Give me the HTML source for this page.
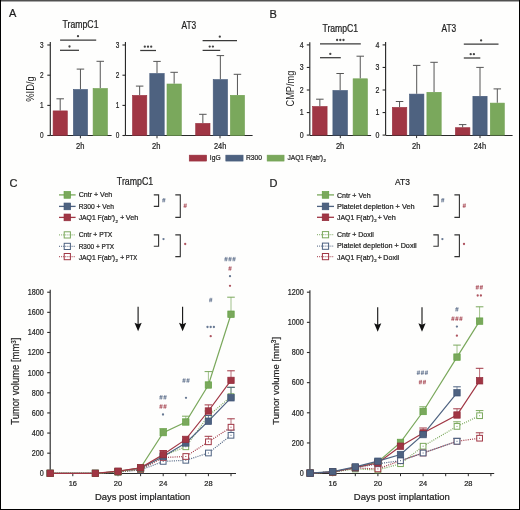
<!DOCTYPE html>
<html><head><meta charset="utf-8"><title>Figure</title>
<style>
html,body{margin:0;padding:0;background:#fefefd;width:520px;height:510px;overflow:hidden;}
svg{display:block;will-change:transform;font-family:"Liberation Sans", sans-serif;}
</style></head>
<body>
<svg width="520" height="510" viewBox="0 0 520 510" shape-rendering="auto">
<rect x="0" y="0" width="520" height="510" fill="#fefefd"/>
<text x="9" y="17.3" font-size="11" text-anchor="start" fill="#1e1e1e" stroke="#1e1e1e" stroke-width="0.22" >A</text>
<text x="80.5" y="28.3" font-size="10" text-anchor="middle" fill="#1e1e1e" stroke="#1e1e1e" stroke-width="0.22" textLength="36" lengthAdjust="spacingAndGlyphs" >TrampC1</text>
<text x="188.8" y="28.5" font-size="10" text-anchor="middle" fill="#1e1e1e" stroke="#1e1e1e" stroke-width="0.22" textLength="14.7" lengthAdjust="spacingAndGlyphs" >AT3</text>
<text transform="translate(34,89) rotate(-90)" x="0" y="0" font-size="10" text-anchor="middle" fill="#1e1e1e" textLength="25.5" lengthAdjust="spacingAndGlyphs">%ID/g</text>
<line x1="50.3" y1="42" x2="50.3" y2="135.5" stroke="#2a2a2a" stroke-width="1.15" />
<line x1="47.3" y1="135.5" x2="50.3" y2="135.5" stroke="#2a2a2a" stroke-width="1.1" />
<text x="43.5" y="138.32" font-size="8.8" text-anchor="end" fill="#1e1e1e" stroke="#1e1e1e" stroke-width="0.22" textLength="3.6" lengthAdjust="spacingAndGlyphs" >0</text>
<line x1="47.3" y1="105.4" x2="50.3" y2="105.4" stroke="#2a2a2a" stroke-width="1.1" />
<text x="43.5" y="108.22" font-size="8.8" text-anchor="end" fill="#1e1e1e" stroke="#1e1e1e" stroke-width="0.22" textLength="3.6" lengthAdjust="spacingAndGlyphs" >1</text>
<line x1="47.3" y1="75.2" x2="50.3" y2="75.2" stroke="#2a2a2a" stroke-width="1.1" />
<text x="43.5" y="78.02" font-size="8.8" text-anchor="end" fill="#1e1e1e" stroke="#1e1e1e" stroke-width="0.22" textLength="3.6" lengthAdjust="spacingAndGlyphs" >2</text>
<line x1="47.3" y1="45" x2="50.3" y2="45" stroke="#2a2a2a" stroke-width="1.1" />
<text x="43.5" y="47.82" font-size="8.8" text-anchor="end" fill="#1e1e1e" stroke="#1e1e1e" stroke-width="0.22" textLength="3.6" lengthAdjust="spacingAndGlyphs" >3</text>
<line x1="50.3" y1="135.5" x2="111.6" y2="135.5" stroke="#2a2a2a" stroke-width="1" />
<line x1="80.4" y1="135.3" x2="80.4" y2="138.3" stroke="#2a2a2a" stroke-width="1" />
<line x1="60.2" y1="110.6" x2="60.2" y2="98.8" stroke="#555555" stroke-width="1" />
<line x1="56.45" y1="98.8" x2="63.95" y2="98.8" stroke="#555555" stroke-width="1" />
<rect x="53.1" y="110.9" width="14.2" height="24.4" fill="#a03644" stroke="#97303e" stroke-width="0.6"/>
<line x1="80.45" y1="89.2" x2="80.45" y2="69.1" stroke="#555555" stroke-width="1" />
<line x1="76.7" y1="69.1" x2="84.2" y2="69.1" stroke="#555555" stroke-width="1" />
<rect x="73.4" y="89.5" width="14.1" height="45.8" fill="#4e6280" stroke="#44597a" stroke-width="0.6"/>
<line x1="100.25" y1="88.2" x2="100.25" y2="61.3" stroke="#555555" stroke-width="1" />
<line x1="96.5" y1="61.3" x2="104" y2="61.3" stroke="#555555" stroke-width="1" />
<rect x="93.1" y="88.5" width="14.3" height="46.8" fill="#7aa85c" stroke="#70a050" stroke-width="0.6"/>
<line x1="60.1" y1="40" x2="96.2" y2="40" stroke="#3a3a3a" stroke-width="1.25" />
<circle cx="78" cy="36.2" r="1.15" fill="#444"/>
<line x1="60" y1="50.3" x2="79" y2="50.3" stroke="#3a3a3a" stroke-width="1.25" />
<circle cx="69.5" cy="46.5" r="1.15" fill="#444"/>
<text x="80.3" y="148.6" font-size="8.6" text-anchor="middle" fill="#1e1e1e" stroke="#1e1e1e" stroke-width="0.22" textLength="8.4" lengthAdjust="spacingAndGlyphs" >2h</text>
<line x1="125.45" y1="42" x2="125.45" y2="135.5" stroke="#2a2a2a" stroke-width="1.15" />
<line x1="122.45" y1="135.5" x2="125.45" y2="135.5" stroke="#2a2a2a" stroke-width="1.1" />
<text x="119.4" y="138.32" font-size="8.8" text-anchor="end" fill="#1e1e1e" stroke="#1e1e1e" stroke-width="0.22" textLength="3.6" lengthAdjust="spacingAndGlyphs" >0</text>
<line x1="122.45" y1="105.4" x2="125.45" y2="105.4" stroke="#2a2a2a" stroke-width="1.1" />
<text x="119.4" y="108.22" font-size="8.8" text-anchor="end" fill="#1e1e1e" stroke="#1e1e1e" stroke-width="0.22" textLength="3.6" lengthAdjust="spacingAndGlyphs" >1</text>
<line x1="122.45" y1="75.2" x2="125.45" y2="75.2" stroke="#2a2a2a" stroke-width="1.1" />
<text x="119.4" y="78.02" font-size="8.8" text-anchor="end" fill="#1e1e1e" stroke="#1e1e1e" stroke-width="0.22" textLength="3.6" lengthAdjust="spacingAndGlyphs" >2</text>
<line x1="122.45" y1="45" x2="125.45" y2="45" stroke="#2a2a2a" stroke-width="1.1" />
<text x="119.4" y="47.82" font-size="8.8" text-anchor="end" fill="#1e1e1e" stroke="#1e1e1e" stroke-width="0.22" textLength="3.6" lengthAdjust="spacingAndGlyphs" >3</text>
<line x1="125.4" y1="135.5" x2="252.6" y2="135.5" stroke="#2a2a2a" stroke-width="1" />
<line x1="157" y1="135.3" x2="157" y2="138.3" stroke="#2a2a2a" stroke-width="1" />
<line x1="220" y1="135.3" x2="220" y2="138.3" stroke="#2a2a2a" stroke-width="1" />
<line x1="139.65" y1="95.1" x2="139.65" y2="86.1" stroke="#555555" stroke-width="1" />
<line x1="135.9" y1="86.1" x2="143.4" y2="86.1" stroke="#555555" stroke-width="1" />
<rect x="132.5" y="95.4" width="14.3" height="39.9" fill="#a03644" stroke="#97303e" stroke-width="0.6"/>
<line x1="157" y1="73.2" x2="157" y2="61.4" stroke="#555555" stroke-width="1" />
<line x1="153.25" y1="61.4" x2="160.75" y2="61.4" stroke="#555555" stroke-width="1" />
<rect x="149.8" y="73.5" width="14.4" height="61.8" fill="#4e6280" stroke="#44597a" stroke-width="0.6"/>
<line x1="174.15" y1="83.7" x2="174.15" y2="72.3" stroke="#555555" stroke-width="1" />
<line x1="170.4" y1="72.3" x2="177.9" y2="72.3" stroke="#555555" stroke-width="1" />
<rect x="167" y="84" width="14.3" height="51.3" fill="#7aa85c" stroke="#70a050" stroke-width="0.6"/>
<line x1="202.85" y1="123.1" x2="202.85" y2="114.3" stroke="#555555" stroke-width="1" />
<line x1="199.1" y1="114.3" x2="206.6" y2="114.3" stroke="#555555" stroke-width="1" />
<rect x="195.7" y="123.4" width="14.3" height="11.9" fill="#a03644" stroke="#97303e" stroke-width="0.6"/>
<line x1="220.35" y1="79.3" x2="220.35" y2="55.6" stroke="#555555" stroke-width="1" />
<line x1="216.6" y1="55.6" x2="224.1" y2="55.6" stroke="#555555" stroke-width="1" />
<rect x="213.2" y="79.6" width="14.3" height="55.7" fill="#4e6280" stroke="#44597a" stroke-width="0.6"/>
<line x1="237.45" y1="95" x2="237.45" y2="74.3" stroke="#555555" stroke-width="1" />
<line x1="233.7" y1="74.3" x2="241.2" y2="74.3" stroke="#555555" stroke-width="1" />
<rect x="230.4" y="95.3" width="14.1" height="40" fill="#7aa85c" stroke="#70a050" stroke-width="0.6"/>
<line x1="140.2" y1="50.5" x2="156" y2="50.5" stroke="#3a3a3a" stroke-width="1.25" />
<circle cx="144.8" cy="46.7" r="1.15" fill="#444"/>
<circle cx="148" cy="46.7" r="1.15" fill="#444"/>
<circle cx="151.2" cy="46.7" r="1.15" fill="#444"/>
<line x1="202.6" y1="40.5" x2="237" y2="40.5" stroke="#3a3a3a" stroke-width="1.25" />
<circle cx="219.8" cy="36.7" r="1.15" fill="#444"/>
<line x1="202.6" y1="50.4" x2="220.2" y2="50.4" stroke="#3a3a3a" stroke-width="1.25" />
<circle cx="209.7" cy="46.6" r="1.15" fill="#444"/>
<circle cx="212.9" cy="46.6" r="1.15" fill="#444"/>
<text x="156.2" y="148.6" font-size="8.6" text-anchor="middle" fill="#1e1e1e" stroke="#1e1e1e" stroke-width="0.22" textLength="8.4" lengthAdjust="spacingAndGlyphs" >2h</text>
<text x="220.1" y="148.6" font-size="8.6" text-anchor="middle" fill="#1e1e1e" stroke="#1e1e1e" stroke-width="0.22" textLength="12.4" lengthAdjust="spacingAndGlyphs" >24h</text>
<rect x="189.2" y="155.1" width="17.5" height="6" fill="#a03644" stroke="#97303e" stroke-width="0.5"/>
<text x="209.8" y="160.3" font-size="7.4" text-anchor="start" fill="#1e1e1e" stroke="#1e1e1e" stroke-width="0.22" textLength="10.8" lengthAdjust="spacingAndGlyphs" >IgG</text>
<rect x="225.8" y="155.1" width="17.3" height="6" fill="#4e6280" stroke="#44597a" stroke-width="0.5"/>
<text x="246" y="160.3" font-size="7.4" text-anchor="start" fill="#1e1e1e" stroke="#1e1e1e" stroke-width="0.22" textLength="16.1" lengthAdjust="spacingAndGlyphs" >R300</text>
<rect x="267.1" y="155.1" width="17" height="6" fill="#7aa85c" stroke="#70a050" stroke-width="0.5"/>
<text x="287.4" y="160.3" font-size="7.4" text-anchor="start" fill="#1e1e1e" stroke="#1e1e1e" stroke-width="0.22" textLength="35.7" lengthAdjust="spacingAndGlyphs" >JAQ1 F(ab&#8242;)</text>
<text x="323.5" y="162.2" font-size="4.4" text-anchor="start" fill="#1e1e1e" stroke="#1e1e1e" stroke-width="0.22" >2</text>
<text x="269.6" y="17.7" font-size="11" text-anchor="start" fill="#1e1e1e" stroke="#1e1e1e" stroke-width="0.22" >B</text>
<text x="340.3" y="31.7" font-size="10" text-anchor="middle" fill="#1e1e1e" stroke="#1e1e1e" stroke-width="0.22" textLength="35.7" lengthAdjust="spacingAndGlyphs" >TrampC1</text>
<text x="448.8" y="31.8" font-size="10" text-anchor="middle" fill="#1e1e1e" stroke="#1e1e1e" stroke-width="0.22" textLength="14.7" lengthAdjust="spacingAndGlyphs" >AT3</text>
<text transform="translate(294,88.6) rotate(-90)" x="0" y="0" font-size="10.2" text-anchor="middle" fill="#1e1e1e" textLength="35.9" lengthAdjust="spacingAndGlyphs">CMP/mg</text>
<line x1="309.8" y1="42.3" x2="309.8" y2="135.1" stroke="#2a2a2a" stroke-width="1.15" />
<line x1="306.8" y1="135.1" x2="309.8" y2="135.1" stroke="#2a2a2a" stroke-width="1.1" />
<text x="303.6" y="137.92" font-size="8.8" text-anchor="end" fill="#1e1e1e" stroke="#1e1e1e" stroke-width="0.22" textLength="3.9" lengthAdjust="spacingAndGlyphs" >0</text>
<line x1="306.8" y1="112.55" x2="309.8" y2="112.55" stroke="#2a2a2a" stroke-width="1.1" />
<text x="303.6" y="115.37" font-size="8.8" text-anchor="end" fill="#1e1e1e" stroke="#1e1e1e" stroke-width="0.22" textLength="3.9" lengthAdjust="spacingAndGlyphs" >1</text>
<line x1="306.8" y1="90" x2="309.8" y2="90" stroke="#2a2a2a" stroke-width="1.1" />
<text x="303.6" y="92.82" font-size="8.8" text-anchor="end" fill="#1e1e1e" stroke="#1e1e1e" stroke-width="0.22" textLength="3.9" lengthAdjust="spacingAndGlyphs" >2</text>
<line x1="306.8" y1="67.45" x2="309.8" y2="67.45" stroke="#2a2a2a" stroke-width="1.1" />
<text x="303.6" y="70.27" font-size="8.8" text-anchor="end" fill="#1e1e1e" stroke="#1e1e1e" stroke-width="0.22" textLength="3.9" lengthAdjust="spacingAndGlyphs" >3</text>
<line x1="306.8" y1="44.9" x2="309.8" y2="44.9" stroke="#2a2a2a" stroke-width="1.1" />
<text x="303.6" y="47.72" font-size="8.8" text-anchor="end" fill="#1e1e1e" stroke="#1e1e1e" stroke-width="0.22" textLength="3.9" lengthAdjust="spacingAndGlyphs" >4</text>
<line x1="309.8" y1="135.5" x2="371.1" y2="135.5" stroke="#2a2a2a" stroke-width="1" />
<line x1="340.3" y1="135.1" x2="340.3" y2="138.1" stroke="#2a2a2a" stroke-width="1" />
<line x1="319.85" y1="106.2" x2="319.85" y2="99.2" stroke="#555555" stroke-width="1" />
<line x1="316.1" y1="99.2" x2="323.6" y2="99.2" stroke="#555555" stroke-width="1" />
<rect x="312.6" y="106.5" width="14.5" height="28.6" fill="#a03644" stroke="#97303e" stroke-width="0.6"/>
<line x1="340.15" y1="90.2" x2="340.15" y2="73.5" stroke="#555555" stroke-width="1" />
<line x1="336.4" y1="73.5" x2="343.9" y2="73.5" stroke="#555555" stroke-width="1" />
<rect x="332.9" y="90.5" width="14.5" height="44.6" fill="#4e6280" stroke="#44597a" stroke-width="0.6"/>
<line x1="360.25" y1="78.5" x2="360.25" y2="56.2" stroke="#555555" stroke-width="1" />
<line x1="356.5" y1="56.2" x2="364" y2="56.2" stroke="#555555" stroke-width="1" />
<rect x="353.1" y="78.8" width="14.3" height="56.3" fill="#7aa85c" stroke="#70a050" stroke-width="0.6"/>
<line x1="320" y1="43.8" x2="360.8" y2="43.8" stroke="#3a3a3a" stroke-width="1.25" />
<circle cx="337.1" cy="40" r="1.15" fill="#444"/>
<circle cx="340.3" cy="40" r="1.15" fill="#444"/>
<circle cx="343.5" cy="40" r="1.15" fill="#444"/>
<line x1="320" y1="57.7" x2="340.8" y2="57.7" stroke="#3a3a3a" stroke-width="1.25" />
<circle cx="330.3" cy="53.9" r="1.15" fill="#444"/>
<text x="340.1" y="148.6" font-size="8.6" text-anchor="middle" fill="#1e1e1e" stroke="#1e1e1e" stroke-width="0.22" textLength="8.4" lengthAdjust="spacingAndGlyphs" >2h</text>
<line x1="385.6" y1="42" x2="385.6" y2="135.1" stroke="#2a2a2a" stroke-width="1.15" />
<line x1="382.6" y1="135.1" x2="385.6" y2="135.1" stroke="#2a2a2a" stroke-width="1.1" />
<text x="379.3" y="137.92" font-size="8.8" text-anchor="end" fill="#1e1e1e" stroke="#1e1e1e" stroke-width="0.22" textLength="3.9" lengthAdjust="spacingAndGlyphs" >0</text>
<line x1="382.6" y1="112.55" x2="385.6" y2="112.55" stroke="#2a2a2a" stroke-width="1.1" />
<text x="379.3" y="115.37" font-size="8.8" text-anchor="end" fill="#1e1e1e" stroke="#1e1e1e" stroke-width="0.22" textLength="3.9" lengthAdjust="spacingAndGlyphs" >1</text>
<line x1="382.6" y1="90" x2="385.6" y2="90" stroke="#2a2a2a" stroke-width="1.1" />
<text x="379.3" y="92.82" font-size="8.8" text-anchor="end" fill="#1e1e1e" stroke="#1e1e1e" stroke-width="0.22" textLength="3.9" lengthAdjust="spacingAndGlyphs" >2</text>
<line x1="382.6" y1="67.45" x2="385.6" y2="67.45" stroke="#2a2a2a" stroke-width="1.1" />
<text x="379.3" y="70.27" font-size="8.8" text-anchor="end" fill="#1e1e1e" stroke="#1e1e1e" stroke-width="0.22" textLength="3.9" lengthAdjust="spacingAndGlyphs" >3</text>
<line x1="382.6" y1="44.9" x2="385.6" y2="44.9" stroke="#2a2a2a" stroke-width="1.1" />
<text x="379.3" y="47.72" font-size="8.8" text-anchor="end" fill="#1e1e1e" stroke="#1e1e1e" stroke-width="0.22" textLength="3.9" lengthAdjust="spacingAndGlyphs" >4</text>
<line x1="385.6" y1="135.5" x2="512.6" y2="135.5" stroke="#2a2a2a" stroke-width="1" />
<line x1="416.6" y1="135.1" x2="416.6" y2="138.1" stroke="#2a2a2a" stroke-width="1" />
<line x1="480" y1="135.1" x2="480" y2="138.1" stroke="#2a2a2a" stroke-width="1" />
<line x1="399.55" y1="107.1" x2="399.55" y2="101.5" stroke="#555555" stroke-width="1" />
<line x1="395.8" y1="101.5" x2="403.3" y2="101.5" stroke="#555555" stroke-width="1" />
<rect x="392.3" y="107.4" width="14.5" height="27.7" fill="#a03644" stroke="#97303e" stroke-width="0.6"/>
<line x1="416.7" y1="93.8" x2="416.7" y2="65.4" stroke="#555555" stroke-width="1" />
<line x1="412.95" y1="65.4" x2="420.45" y2="65.4" stroke="#555555" stroke-width="1" />
<rect x="409.5" y="94.1" width="14.4" height="41" fill="#4e6280" stroke="#44597a" stroke-width="0.6"/>
<line x1="434.05" y1="92" x2="434.05" y2="62.3" stroke="#555555" stroke-width="1" />
<line x1="430.3" y1="62.3" x2="437.8" y2="62.3" stroke="#555555" stroke-width="1" />
<rect x="426.9" y="92.3" width="14.3" height="42.8" fill="#7aa85c" stroke="#70a050" stroke-width="0.6"/>
<line x1="462.65" y1="127.4" x2="462.65" y2="124.6" stroke="#555555" stroke-width="1" />
<line x1="458.9" y1="124.6" x2="466.4" y2="124.6" stroke="#555555" stroke-width="1" />
<rect x="455.4" y="127.7" width="14.5" height="7.4" fill="#a03644" stroke="#97303e" stroke-width="0.6"/>
<line x1="480" y1="96" x2="480" y2="67.4" stroke="#555555" stroke-width="1" />
<line x1="476.25" y1="67.4" x2="483.75" y2="67.4" stroke="#555555" stroke-width="1" />
<rect x="472.9" y="96.3" width="14.2" height="38.8" fill="#4e6280" stroke="#44597a" stroke-width="0.6"/>
<line x1="497.3" y1="102.8" x2="497.3" y2="88.9" stroke="#555555" stroke-width="1" />
<line x1="493.55" y1="88.9" x2="501.05" y2="88.9" stroke="#555555" stroke-width="1" />
<rect x="490.3" y="103.1" width="14" height="32" fill="#7aa85c" stroke="#70a050" stroke-width="0.6"/>
<line x1="463.8" y1="44.2" x2="498.5" y2="44.2" stroke="#3a3a3a" stroke-width="1.25" />
<circle cx="481.1" cy="40.4" r="1.15" fill="#444"/>
<line x1="463.8" y1="58" x2="480.3" y2="58" stroke="#3a3a3a" stroke-width="1.25" />
<circle cx="470.7" cy="54.2" r="1.15" fill="#444"/>
<circle cx="473.9" cy="54.2" r="1.15" fill="#444"/>
<text x="416.3" y="148.6" font-size="8.6" text-anchor="middle" fill="#1e1e1e" stroke="#1e1e1e" stroke-width="0.22" textLength="8.4" lengthAdjust="spacingAndGlyphs" >2h</text>
<text x="479.9" y="148.6" font-size="8.6" text-anchor="middle" fill="#1e1e1e" stroke="#1e1e1e" stroke-width="0.22" textLength="12.4" lengthAdjust="spacingAndGlyphs" >24h</text>
<text x="9.5" y="187.4" font-size="11" text-anchor="start" fill="#1e1e1e" stroke="#1e1e1e" stroke-width="0.22" >C</text>
<text x="135" y="185.2" font-size="10.3" text-anchor="middle" fill="#1e1e1e" stroke="#1e1e1e" stroke-width="0.22" textLength="36.3" lengthAdjust="spacingAndGlyphs" >TrampC1</text>
<line x1="59" y1="194.9" x2="75.6" y2="194.9" stroke="#7aa85c" stroke-width="1.3"/>
<rect x="64.05" y="191.55" width="6.5" height="6.7" fill="#7aa85c" stroke="#62a042" stroke-width="0.7"/>
<line x1="59" y1="206.4" x2="75.6" y2="206.4" stroke="#4e6280" stroke-width="1.3"/>
<rect x="64.05" y="203.05" width="6.5" height="6.7" fill="#4e6280" stroke="#3d5274" stroke-width="0.7"/>
<line x1="59" y1="217.4" x2="75.6" y2="217.4" stroke="#a03644" stroke-width="1.3"/>
<rect x="64.05" y="214.05" width="6.5" height="6.7" fill="#a03644" stroke="#922a3a" stroke-width="0.7"/>
<rect x="64.2" y="231.8" width="6.2" height="6.2" fill="#ffffff" stroke="#7aa85c" stroke-width="1"/>
<line x1="59" y1="234.9" x2="75.6" y2="234.9" stroke="#7aa85c" stroke-width="1.2" stroke-dasharray="1,1.1" stroke-opacity="0.8"/>
<rect x="64.2" y="243.3" width="6.2" height="6.2" fill="#ffffff" stroke="#4e6280" stroke-width="1"/>
<line x1="59" y1="246.4" x2="75.6" y2="246.4" stroke="#4e6280" stroke-width="1.2" stroke-dasharray="1,1.1" stroke-opacity="0.8"/>
<rect x="64.2" y="253.5" width="6.2" height="6.2" fill="#ffffff" stroke="#a03644" stroke-width="1"/>
<line x1="59" y1="256.6" x2="75.6" y2="256.6" stroke="#a03644" stroke-width="1.2" stroke-dasharray="1,1.1" stroke-opacity="0.8"/>
<text x="78.7" y="197.4" font-size="7.2" text-anchor="start" fill="#1e1e1e" stroke="#1e1e1e" stroke-width="0.22" textLength="33.6" lengthAdjust="spacingAndGlyphs" >Cntr + Veh</text>
<text x="78.7" y="208.7" font-size="7.2" text-anchor="start" fill="#1e1e1e" stroke="#1e1e1e" stroke-width="0.22" textLength="35.2" lengthAdjust="spacingAndGlyphs" >R300 + Veh</text>
<text x="78.7" y="220.4" font-size="7.2" text-anchor="start" fill="#1e1e1e" stroke="#1e1e1e" stroke-width="0.22" textLength="36.4" lengthAdjust="spacingAndGlyphs" >JAQ1 F(ab&#8242;)</text>
<text x="115.4" y="222.5" font-size="4.3" text-anchor="start" fill="#1e1e1e" stroke="#1e1e1e" stroke-width="0.22" >2</text>
<text x="120.3" y="220.4" font-size="7.2" text-anchor="start" fill="#1e1e1e" stroke="#1e1e1e" stroke-width="0.22" textLength="4" lengthAdjust="spacingAndGlyphs" >+</text>
<text x="125.8" y="220.4" font-size="7.2" text-anchor="start" fill="#1e1e1e" stroke="#1e1e1e" stroke-width="0.22" textLength="12.4" lengthAdjust="spacingAndGlyphs" >Veh</text>
<text x="78.7" y="237.4" font-size="7.2" text-anchor="start" fill="#1e1e1e" stroke="#1e1e1e" stroke-width="0.22" textLength="33.6" lengthAdjust="spacingAndGlyphs" >Cntr + PTX</text>
<text x="78.7" y="248.7" font-size="7.2" text-anchor="start" fill="#1e1e1e" stroke="#1e1e1e" stroke-width="0.22" textLength="35.5" lengthAdjust="spacingAndGlyphs" >R300 + PTX</text>
<text x="78.7" y="260" font-size="7.2" text-anchor="start" fill="#1e1e1e" stroke="#1e1e1e" stroke-width="0.22" textLength="36.4" lengthAdjust="spacingAndGlyphs" >JAQ1 F(ab&#8242;)</text>
<text x="115.4" y="262.1" font-size="4.3" text-anchor="start" fill="#1e1e1e" stroke="#1e1e1e" stroke-width="0.22" >2</text>
<text x="120.3" y="260" font-size="7.2" text-anchor="start" fill="#1e1e1e" stroke="#1e1e1e" stroke-width="0.22" textLength="4" lengthAdjust="spacingAndGlyphs" >+</text>
<text x="125.8" y="260" font-size="7.2" text-anchor="start" fill="#1e1e1e" stroke="#1e1e1e" stroke-width="0.22" textLength="11.4" lengthAdjust="spacingAndGlyphs" >PTX</text>
<path d="M153.8,194.9 H158.6 V206.4 H153.8" fill="none" stroke="#333" stroke-width="1.1"/>
<path d="M175.3,194.9 H180.3 V217.4 H175.3" fill="none" stroke="#333" stroke-width="1.1"/>
<path d="M153.8,234.9 H158.6 V246.2 H153.8" fill="none" stroke="#333" stroke-width="1.1"/>
<path d="M175.3,234.9 H180.3 V256.6 H175.3" fill="none" stroke="#333" stroke-width="1.1"/>
<path d="M163.5,198 L162.8,202.4 M164.9,198 L164.2,202.4 M162.2,199.45 L165.4,199.45 M162.1,200.95 L165.3,200.95" stroke="#4e6280" stroke-width="0.75" stroke-opacity="0.78" fill="none"/>
<path d="M184.9,203.5 L184.2,207.9 M186.3,203.5 L185.6,207.9 M183.6,204.95 L186.8,204.95 M183.5,206.45 L186.7,206.45" stroke="#a03644" stroke-width="0.75" stroke-opacity="0.78" fill="none"/>
<circle cx="163.5" cy="239.1" r="1.15" fill="#4e6280" fill-opacity="0.85"/>
<circle cx="185.2" cy="244" r="1.15" fill="#a03644" fill-opacity="0.85"/>
<line x1="50.2" y1="289.8" x2="50.2" y2="473.3" stroke="#2a2a2a" stroke-width="1.15" />
<line x1="47.2" y1="473.3" x2="50.2" y2="473.3" stroke="#2a2a2a" stroke-width="1.1" />
<text x="43.7" y="476.12" font-size="8.8" text-anchor="end" fill="#1e1e1e" stroke="#1e1e1e" stroke-width="0.22" textLength="4" lengthAdjust="spacingAndGlyphs" >0</text>
<line x1="47.2" y1="453.18" x2="50.2" y2="453.18" stroke="#2a2a2a" stroke-width="1.1" />
<text x="43.7" y="456" font-size="8.8" text-anchor="end" fill="#1e1e1e" stroke="#1e1e1e" stroke-width="0.22" textLength="12" lengthAdjust="spacingAndGlyphs" >200</text>
<line x1="47.2" y1="433.06" x2="50.2" y2="433.06" stroke="#2a2a2a" stroke-width="1.1" />
<text x="43.7" y="435.88" font-size="8.8" text-anchor="end" fill="#1e1e1e" stroke="#1e1e1e" stroke-width="0.22" textLength="12" lengthAdjust="spacingAndGlyphs" >400</text>
<line x1="47.2" y1="412.94" x2="50.2" y2="412.94" stroke="#2a2a2a" stroke-width="1.1" />
<text x="43.7" y="415.76" font-size="8.8" text-anchor="end" fill="#1e1e1e" stroke="#1e1e1e" stroke-width="0.22" textLength="12" lengthAdjust="spacingAndGlyphs" >600</text>
<line x1="47.2" y1="392.82" x2="50.2" y2="392.82" stroke="#2a2a2a" stroke-width="1.1" />
<text x="43.7" y="395.64" font-size="8.8" text-anchor="end" fill="#1e1e1e" stroke="#1e1e1e" stroke-width="0.22" textLength="12" lengthAdjust="spacingAndGlyphs" >800</text>
<line x1="47.2" y1="372.7" x2="50.2" y2="372.7" stroke="#2a2a2a" stroke-width="1.1" />
<text x="43.7" y="375.52" font-size="8.8" text-anchor="end" fill="#1e1e1e" stroke="#1e1e1e" stroke-width="0.22" textLength="16" lengthAdjust="spacingAndGlyphs" >1000</text>
<line x1="47.2" y1="352.58" x2="50.2" y2="352.58" stroke="#2a2a2a" stroke-width="1.1" />
<text x="43.7" y="355.4" font-size="8.8" text-anchor="end" fill="#1e1e1e" stroke="#1e1e1e" stroke-width="0.22" textLength="16" lengthAdjust="spacingAndGlyphs" >1200</text>
<line x1="47.2" y1="332.46" x2="50.2" y2="332.46" stroke="#2a2a2a" stroke-width="1.1" />
<text x="43.7" y="335.28" font-size="8.8" text-anchor="end" fill="#1e1e1e" stroke="#1e1e1e" stroke-width="0.22" textLength="16" lengthAdjust="spacingAndGlyphs" >1400</text>
<line x1="47.2" y1="312.34" x2="50.2" y2="312.34" stroke="#2a2a2a" stroke-width="1.1" />
<text x="43.7" y="315.16" font-size="8.8" text-anchor="end" fill="#1e1e1e" stroke="#1e1e1e" stroke-width="0.22" textLength="16" lengthAdjust="spacingAndGlyphs" >1600</text>
<line x1="47.2" y1="292.22" x2="50.2" y2="292.22" stroke="#2a2a2a" stroke-width="1.1" />
<text x="43.7" y="295.04" font-size="8.8" text-anchor="end" fill="#1e1e1e" stroke="#1e1e1e" stroke-width="0.22" textLength="16" lengthAdjust="spacingAndGlyphs" >1800</text>
<line x1="50.2" y1="473.5" x2="236" y2="473.5" stroke="#2a2a2a" stroke-width="1" />
<line x1="72.8" y1="473.5" x2="72.8" y2="476.2" stroke="#2a2a2a" stroke-width="1" />
<line x1="95.4" y1="473.5" x2="95.4" y2="476.2" stroke="#2a2a2a" stroke-width="1" />
<line x1="118" y1="473.5" x2="118" y2="476.2" stroke="#2a2a2a" stroke-width="1" />
<line x1="140.6" y1="473.5" x2="140.6" y2="476.2" stroke="#2a2a2a" stroke-width="1" />
<line x1="163.2" y1="473.5" x2="163.2" y2="476.2" stroke="#2a2a2a" stroke-width="1" />
<line x1="185.8" y1="473.5" x2="185.8" y2="476.2" stroke="#2a2a2a" stroke-width="1" />
<line x1="208.4" y1="473.5" x2="208.4" y2="476.2" stroke="#2a2a2a" stroke-width="1" />
<line x1="231" y1="473.5" x2="231" y2="476.2" stroke="#2a2a2a" stroke-width="1" />
<text x="72.8" y="486.2" font-size="8" text-anchor="middle" fill="#1e1e1e" stroke="#1e1e1e" stroke-width="0.22" textLength="8.3" lengthAdjust="spacingAndGlyphs" >16</text>
<text x="118" y="486.2" font-size="8" text-anchor="middle" fill="#1e1e1e" stroke="#1e1e1e" stroke-width="0.22" textLength="8.3" lengthAdjust="spacingAndGlyphs" >20</text>
<text x="163.2" y="486.2" font-size="8" text-anchor="middle" fill="#1e1e1e" stroke="#1e1e1e" stroke-width="0.22" textLength="8.3" lengthAdjust="spacingAndGlyphs" >24</text>
<text x="208.4" y="486.2" font-size="8" text-anchor="middle" fill="#1e1e1e" stroke="#1e1e1e" stroke-width="0.22" textLength="8.3" lengthAdjust="spacingAndGlyphs" >28</text>
<text x="142.6" y="500" font-size="9.4" text-anchor="middle" fill="#1e1e1e" stroke="#1e1e1e" stroke-width="0.22" textLength="95.3" lengthAdjust="spacingAndGlyphs" >Days post implantation</text>
<text transform="translate(19.3,381.2) rotate(-90)" font-size="10.2" text-anchor="middle" fill="#1e1e1e" stroke="#1e1e1e" stroke-width="0.2" textLength="87" lengthAdjust="spacingAndGlyphs">Tumor volume [mm<tspan font-size="6.6" dy="-3.8">3</tspan><tspan dy="3.8">]</tspan></text>
<line x1="138.1" y1="306.8" x2="138.1" y2="326.2" stroke="#111" stroke-width="1.1" />
<path d="M134.5,322.7 L138.1,331.2 L141.7,322.7 L138.1,324.2 Z" fill="#111"/>
<line x1="182.6" y1="306.8" x2="182.6" y2="326.2" stroke="#111" stroke-width="1.1" />
<path d="M179,322.7 L182.6,331.2 L186.2,322.7 L182.6,324.2 Z" fill="#111"/>
<path d="M50.2,473.3 L95.4,473.3 L118,472 L140.6,470 L163.2,461.4 L185.8,460.3 L208.4,453 L231,435.3" fill="none" stroke="#4e6280" stroke-width="1.2" stroke-dasharray="1,1.2"/>
<path d="M50.2,473.3 L95.4,473.3 L118,472 L140.6,469.5 L163.2,457.5 L185.8,456.5 L208.4,441.8 L231,427.2" fill="none" stroke="#a03644" stroke-width="1.2" stroke-dasharray="1,1.2"/>
<path d="M50.2,473.3 L95.4,473.3 L118,472 L140.6,469 L163.2,455.8 L185.8,446.8 L208.4,415.8 L231,396.6" fill="none" stroke="#7aa85c" stroke-width="1.2" stroke-dasharray="1,1.2"/>
<rect x="47.35" y="470.45" width="5.7" height="5.7" fill="#ffffff" stroke="#4e6280" stroke-width="1"/>
<rect x="49.7" y="472.8" width="1" height="1" fill="#4e6280"/>
<rect x="92.55" y="470.45" width="5.7" height="5.7" fill="#ffffff" stroke="#4e6280" stroke-width="1"/>
<rect x="94.9" y="472.8" width="1" height="1" fill="#4e6280"/>
<rect x="115.15" y="469.15" width="5.7" height="5.7" fill="#ffffff" stroke="#4e6280" stroke-width="1"/>
<rect x="117.5" y="471.5" width="1" height="1" fill="#4e6280"/>
<rect x="137.75" y="467.15" width="5.7" height="5.7" fill="#ffffff" stroke="#4e6280" stroke-width="1"/>
<rect x="140.1" y="469.5" width="1" height="1" fill="#4e6280"/>
<rect x="160.35" y="458.55" width="5.7" height="5.7" fill="#ffffff" stroke="#4e6280" stroke-width="1"/>
<rect x="162.7" y="460.9" width="1" height="1" fill="#4e6280"/>
<rect x="182.95" y="457.45" width="5.7" height="5.7" fill="#ffffff" stroke="#4e6280" stroke-width="1"/>
<rect x="185.3" y="459.8" width="1" height="1" fill="#4e6280"/>
<rect x="205.55" y="450.15" width="5.7" height="5.7" fill="#ffffff" stroke="#4e6280" stroke-width="1"/>
<rect x="207.9" y="452.5" width="1" height="1" fill="#4e6280"/>
<line x1="231" y1="435.3" x2="231" y2="430" stroke="#4e6280" stroke-width="1" stroke-opacity="0.7"/>
<line x1="227.2" y1="430" x2="234.8" y2="430" stroke="#4e6280" stroke-width="1" />
<rect x="228.15" y="432.45" width="5.7" height="5.7" fill="#ffffff" stroke="#4e6280" stroke-width="1"/>
<rect x="230.5" y="434.8" width="1" height="1" fill="#4e6280"/>
<rect x="47.35" y="470.45" width="5.7" height="5.7" fill="#ffffff" stroke="#a03644" stroke-width="1"/>
<rect x="49.7" y="472.8" width="1" height="1" fill="#a03644"/>
<rect x="92.55" y="470.45" width="5.7" height="5.7" fill="#ffffff" stroke="#a03644" stroke-width="1"/>
<rect x="94.9" y="472.8" width="1" height="1" fill="#a03644"/>
<rect x="115.15" y="469.15" width="5.7" height="5.7" fill="#ffffff" stroke="#a03644" stroke-width="1"/>
<rect x="117.5" y="471.5" width="1" height="1" fill="#a03644"/>
<rect x="137.75" y="466.65" width="5.7" height="5.7" fill="#ffffff" stroke="#a03644" stroke-width="1"/>
<rect x="140.1" y="469" width="1" height="1" fill="#a03644"/>
<rect x="160.35" y="454.65" width="5.7" height="5.7" fill="#ffffff" stroke="#a03644" stroke-width="1"/>
<rect x="162.7" y="457" width="1" height="1" fill="#a03644"/>
<rect x="182.95" y="453.65" width="5.7" height="5.7" fill="#ffffff" stroke="#a03644" stroke-width="1"/>
<rect x="185.3" y="456" width="1" height="1" fill="#a03644"/>
<line x1="208.4" y1="441.8" x2="208.4" y2="436.3" stroke="#a03644" stroke-width="1" stroke-opacity="0.7"/>
<line x1="204.6" y1="436.3" x2="212.2" y2="436.3" stroke="#a03644" stroke-width="1" />
<rect x="205.55" y="438.95" width="5.7" height="5.7" fill="#ffffff" stroke="#a03644" stroke-width="1"/>
<rect x="207.9" y="441.3" width="1" height="1" fill="#a03644"/>
<line x1="231" y1="427.2" x2="231" y2="418.8" stroke="#a03644" stroke-width="1" stroke-opacity="0.7"/>
<line x1="227.2" y1="418.8" x2="234.8" y2="418.8" stroke="#a03644" stroke-width="1" />
<rect x="228.15" y="424.35" width="5.7" height="5.7" fill="#ffffff" stroke="#a03644" stroke-width="1"/>
<rect x="230.5" y="426.7" width="1" height="1" fill="#a03644"/>
<rect x="47.35" y="470.45" width="5.7" height="5.7" fill="#ffffff" stroke="#7aa85c" stroke-width="1"/>
<rect x="49.7" y="472.8" width="1" height="1" fill="#7aa85c"/>
<rect x="92.55" y="470.45" width="5.7" height="5.7" fill="#ffffff" stroke="#7aa85c" stroke-width="1"/>
<rect x="94.9" y="472.8" width="1" height="1" fill="#7aa85c"/>
<rect x="115.15" y="469.15" width="5.7" height="5.7" fill="#ffffff" stroke="#7aa85c" stroke-width="1"/>
<rect x="117.5" y="471.5" width="1" height="1" fill="#7aa85c"/>
<rect x="137.75" y="466.15" width="5.7" height="5.7" fill="#ffffff" stroke="#7aa85c" stroke-width="1"/>
<rect x="140.1" y="468.5" width="1" height="1" fill="#7aa85c"/>
<rect x="160.35" y="452.95" width="5.7" height="5.7" fill="#ffffff" stroke="#7aa85c" stroke-width="1"/>
<rect x="162.7" y="455.3" width="1" height="1" fill="#7aa85c"/>
<rect x="182.95" y="443.95" width="5.7" height="5.7" fill="#ffffff" stroke="#7aa85c" stroke-width="1"/>
<rect x="185.3" y="446.3" width="1" height="1" fill="#7aa85c"/>
<line x1="208.4" y1="415.8" x2="208.4" y2="411" stroke="#7aa85c" stroke-width="1" stroke-opacity="0.7"/>
<line x1="204.6" y1="411" x2="212.2" y2="411" stroke="#7aa85c" stroke-width="1" />
<rect x="205.55" y="412.95" width="5.7" height="5.7" fill="#ffffff" stroke="#7aa85c" stroke-width="1"/>
<rect x="207.9" y="415.3" width="1" height="1" fill="#7aa85c"/>
<line x1="231" y1="396.6" x2="231" y2="387.3" stroke="#7aa85c" stroke-width="1" stroke-opacity="0.7"/>
<line x1="227.2" y1="387.3" x2="234.8" y2="387.3" stroke="#7aa85c" stroke-width="1" />
<rect x="228.15" y="393.75" width="5.7" height="5.7" fill="#ffffff" stroke="#7aa85c" stroke-width="1"/>
<rect x="230.5" y="396.1" width="1" height="1" fill="#7aa85c"/>
<path d="M50.2,473.3 L95.4,473.3 L118,471.5 L140.6,468.2 L163.2,456.5 L185.8,443 L208.4,421.2 L231,397.8" fill="none" stroke="#4e6280" stroke-width="1.2"/>
<path d="M50.2,473.3 L95.4,473.3 L118,471.5 L140.6,467.8 L163.2,432.6 L185.8,422 L208.4,385 L231,314.2" fill="none" stroke="#7aa85c" stroke-width="1.2"/>
<path d="M50.2,473.3 L95.4,473.3 L118,471.2 L140.6,467.8 L163.2,454.6 L185.8,439.4 L208.4,411 L231,380.4" fill="none" stroke="#a03644" stroke-width="1.2"/>
<rect x="47" y="470.1" width="6.4" height="6.4" fill="#4e6280" stroke="#3d5274" stroke-width="0.7"/>
<rect x="92.2" y="470.1" width="6.4" height="6.4" fill="#4e6280" stroke="#3d5274" stroke-width="0.7"/>
<rect x="114.8" y="468.3" width="6.4" height="6.4" fill="#4e6280" stroke="#3d5274" stroke-width="0.7"/>
<rect x="137.4" y="465" width="6.4" height="6.4" fill="#4e6280" stroke="#3d5274" stroke-width="0.7"/>
<rect x="160" y="453.3" width="6.4" height="6.4" fill="#4e6280" stroke="#3d5274" stroke-width="0.7"/>
<rect x="182.6" y="439.8" width="6.4" height="6.4" fill="#4e6280" stroke="#3d5274" stroke-width="0.7"/>
<line x1="208.4" y1="421.2" x2="208.4" y2="415.5" stroke="#4e6280" stroke-width="1" stroke-opacity="0.7"/>
<line x1="204.6" y1="415.5" x2="212.2" y2="415.5" stroke="#4e6280" stroke-width="1" />
<rect x="205.2" y="418" width="6.4" height="6.4" fill="#4e6280" stroke="#3d5274" stroke-width="0.7"/>
<line x1="231" y1="397.8" x2="231" y2="387.3" stroke="#4e6280" stroke-width="1" stroke-opacity="0.7"/>
<line x1="227.2" y1="387.3" x2="234.8" y2="387.3" stroke="#4e6280" stroke-width="1" />
<rect x="227.8" y="394.6" width="6.4" height="6.4" fill="#4e6280" stroke="#3d5274" stroke-width="0.7"/>
<rect x="47" y="470.1" width="6.4" height="6.4" fill="#7aa85c" stroke="#62a042" stroke-width="0.7"/>
<rect x="92.2" y="470.1" width="6.4" height="6.4" fill="#7aa85c" stroke="#62a042" stroke-width="0.7"/>
<rect x="114.8" y="468.3" width="6.4" height="6.4" fill="#7aa85c" stroke="#62a042" stroke-width="0.7"/>
<rect x="137.4" y="464.6" width="6.4" height="6.4" fill="#7aa85c" stroke="#62a042" stroke-width="0.7"/>
<line x1="163.2" y1="432.6" x2="163.2" y2="428.6" stroke="#7aa85c" stroke-width="1" stroke-opacity="0.7"/>
<line x1="159.4" y1="428.6" x2="167" y2="428.6" stroke="#7aa85c" stroke-width="1" />
<rect x="160" y="429.4" width="6.4" height="6.4" fill="#7aa85c" stroke="#62a042" stroke-width="0.7"/>
<line x1="185.8" y1="422" x2="185.8" y2="416.2" stroke="#7aa85c" stroke-width="1" stroke-opacity="0.7"/>
<line x1="182" y1="416.2" x2="189.6" y2="416.2" stroke="#7aa85c" stroke-width="1" />
<rect x="182.6" y="418.8" width="6.4" height="6.4" fill="#7aa85c" stroke="#62a042" stroke-width="0.7"/>
<line x1="208.4" y1="385" x2="208.4" y2="371.6" stroke="#7aa85c" stroke-width="1" stroke-opacity="0.7"/>
<line x1="204.6" y1="371.6" x2="212.2" y2="371.6" stroke="#7aa85c" stroke-width="1" />
<rect x="205.2" y="381.8" width="6.4" height="6.4" fill="#7aa85c" stroke="#62a042" stroke-width="0.7"/>
<line x1="231" y1="314.2" x2="231" y2="297.2" stroke="#7aa85c" stroke-width="1" stroke-opacity="0.7"/>
<line x1="227.2" y1="297.2" x2="234.8" y2="297.2" stroke="#7aa85c" stroke-width="1" />
<rect x="227.8" y="311" width="6.4" height="6.4" fill="#7aa85c" stroke="#62a042" stroke-width="0.7"/>
<rect x="47" y="470.1" width="6.4" height="6.4" fill="#a03644" stroke="#922a3a" stroke-width="0.7"/>
<rect x="92.2" y="470.1" width="6.4" height="6.4" fill="#a03644" stroke="#922a3a" stroke-width="0.7"/>
<rect x="114.8" y="468" width="6.4" height="6.4" fill="#a03644" stroke="#922a3a" stroke-width="0.7"/>
<rect x="137.4" y="464.6" width="6.4" height="6.4" fill="#a03644" stroke="#922a3a" stroke-width="0.7"/>
<line x1="163.2" y1="454.6" x2="163.2" y2="450.5" stroke="#a03644" stroke-width="1" stroke-opacity="0.7"/>
<line x1="159.4" y1="450.5" x2="167" y2="450.5" stroke="#a03644" stroke-width="1" />
<rect x="160" y="451.4" width="6.4" height="6.4" fill="#a03644" stroke="#922a3a" stroke-width="0.7"/>
<rect x="182.6" y="436.2" width="6.4" height="6.4" fill="#a03644" stroke="#922a3a" stroke-width="0.7"/>
<line x1="208.4" y1="411" x2="208.4" y2="404.9" stroke="#a03644" stroke-width="1" stroke-opacity="0.7"/>
<line x1="204.6" y1="404.9" x2="212.2" y2="404.9" stroke="#a03644" stroke-width="1" />
<rect x="205.2" y="407.8" width="6.4" height="6.4" fill="#a03644" stroke="#922a3a" stroke-width="0.7"/>
<line x1="231" y1="380.4" x2="231" y2="370.8" stroke="#a03644" stroke-width="1" stroke-opacity="0.7"/>
<line x1="227.2" y1="370.8" x2="234.8" y2="370.8" stroke="#a03644" stroke-width="1" />
<rect x="227.8" y="377.2" width="6.4" height="6.4" fill="#a03644" stroke="#922a3a" stroke-width="0.7"/>
<path d="M160.7,395.1 L160,399.5 M162.1,395.1 L161.4,399.5 M159.4,396.55 L162.6,396.55 M159.3,398.05 L162.5,398.05" stroke="#4e6280" stroke-width="0.75" stroke-opacity="0.78" fill="none"/>
<path d="M164.7,395.1 L164,399.5 M166.1,395.1 L165.4,399.5 M163.4,396.55 L166.6,396.55 M163.3,398.05 L166.5,398.05" stroke="#4e6280" stroke-width="0.75" stroke-opacity="0.78" fill="none"/>
<path d="M160.7,404.3 L160,408.7 M162.1,404.3 L161.4,408.7 M159.4,405.75 L162.6,405.75 M159.3,407.25 L162.5,407.25" stroke="#a03644" stroke-width="0.75" stroke-opacity="0.78" fill="none"/>
<path d="M164.7,404.3 L164,408.7 M166.1,404.3 L165.4,408.7 M163.4,405.75 L166.6,405.75 M163.3,407.25 L166.5,407.25" stroke="#a03644" stroke-width="0.75" stroke-opacity="0.78" fill="none"/>
<circle cx="163" cy="414.5" r="1.15" fill="#4e6280" fill-opacity="0.85"/>
<path d="M183.7,378.3 L183,382.7 M185.1,378.3 L184.4,382.7 M182.4,379.75 L185.6,379.75 M182.3,381.25 L185.5,381.25" stroke="#4e6280" stroke-width="0.75" stroke-opacity="0.78" fill="none"/>
<path d="M187.7,378.3 L187,382.7 M189.1,378.3 L188.4,382.7 M186.4,379.75 L189.6,379.75 M186.3,381.25 L189.5,381.25" stroke="#4e6280" stroke-width="0.75" stroke-opacity="0.78" fill="none"/>
<circle cx="186" cy="397.8" r="1.15" fill="#4e6280" fill-opacity="0.85"/>
<path d="M210.4,297.8 L209.7,302.2 M211.8,297.8 L211.1,302.2 M209.1,299.25 L212.3,299.25 M209,300.75 L212.2,300.75" stroke="#4e6280" stroke-width="0.75" stroke-opacity="0.78" fill="none"/>
<circle cx="207.5" cy="327" r="1.15" fill="#4e6280" fill-opacity="0.85"/>
<circle cx="210.7" cy="327" r="1.15" fill="#4e6280" fill-opacity="0.85"/>
<circle cx="213.9" cy="327" r="1.15" fill="#4e6280" fill-opacity="0.85"/>
<circle cx="210.7" cy="336.2" r="1.15" fill="#a03644" fill-opacity="0.85"/>
<path d="M225.7,256.9 L225,261.3 M227.1,256.9 L226.4,261.3 M224.4,258.35 L227.6,258.35 M224.3,259.85 L227.5,259.85" stroke="#4e6280" stroke-width="0.75" stroke-opacity="0.78" fill="none"/>
<path d="M229.7,256.9 L229,261.3 M231.1,256.9 L230.4,261.3 M228.4,258.35 L231.6,258.35 M228.3,259.85 L231.5,259.85" stroke="#4e6280" stroke-width="0.75" stroke-opacity="0.78" fill="none"/>
<path d="M233.7,256.9 L233,261.3 M235.1,256.9 L234.4,261.3 M232.4,258.35 L235.6,258.35 M232.3,259.85 L235.5,259.85" stroke="#4e6280" stroke-width="0.75" stroke-opacity="0.78" fill="none"/>
<path d="M229.7,266.3 L229,270.7 M231.1,266.3 L230.4,270.7 M228.4,267.75 L231.6,267.75 M228.3,269.25 L231.5,269.25" stroke="#a03644" stroke-width="0.75" stroke-opacity="0.78" fill="none"/>
<circle cx="230" cy="276.2" r="1.15" fill="#4e6280" fill-opacity="0.85"/>
<circle cx="230" cy="285.8" r="1.15" fill="#a03644" fill-opacity="0.85"/>
<text x="269.5" y="186.9" font-size="11" text-anchor="start" fill="#1e1e1e" stroke="#1e1e1e" stroke-width="0.22" >D</text>
<text x="402.5" y="185.4" font-size="9.5" text-anchor="middle" fill="#1e1e1e" stroke="#1e1e1e" stroke-width="0.22" textLength="14.9" lengthAdjust="spacingAndGlyphs" >AT3</text>
<line x1="317" y1="194.9" x2="334" y2="194.9" stroke="#7aa85c" stroke-width="1.3"/>
<rect x="322.25" y="191.55" width="6.5" height="6.7" fill="#7aa85c" stroke="#62a042" stroke-width="0.7"/>
<line x1="317" y1="206.4" x2="334" y2="206.4" stroke="#4e6280" stroke-width="1.3"/>
<rect x="322.25" y="203.05" width="6.5" height="6.7" fill="#4e6280" stroke="#3d5274" stroke-width="0.7"/>
<line x1="317" y1="217.3" x2="334" y2="217.3" stroke="#a03644" stroke-width="1.3"/>
<rect x="322.25" y="213.95" width="6.5" height="6.7" fill="#a03644" stroke="#922a3a" stroke-width="0.7"/>
<rect x="322.4" y="231.6" width="6.2" height="6.2" fill="#ffffff" stroke="#7aa85c" stroke-width="1"/>
<line x1="317" y1="234.7" x2="334" y2="234.7" stroke="#7aa85c" stroke-width="1.2" stroke-dasharray="1,1.1" stroke-opacity="0.8"/>
<rect x="322.4" y="243.1" width="6.2" height="6.2" fill="#ffffff" stroke="#4e6280" stroke-width="1"/>
<line x1="317" y1="246.2" x2="334" y2="246.2" stroke="#4e6280" stroke-width="1.2" stroke-dasharray="1,1.1" stroke-opacity="0.8"/>
<rect x="322.4" y="253.5" width="6.2" height="6.2" fill="#ffffff" stroke="#a03644" stroke-width="1"/>
<line x1="317" y1="256.6" x2="334" y2="256.6" stroke="#a03644" stroke-width="1.2" stroke-dasharray="1,1.1" stroke-opacity="0.8"/>
<text x="337" y="197.5" font-size="7.2" text-anchor="start" fill="#1e1e1e" stroke="#1e1e1e" stroke-width="0.22" textLength="33.6" lengthAdjust="spacingAndGlyphs" >Cntr + Veh</text>
<text x="337" y="208.6" font-size="7.2" text-anchor="start" fill="#1e1e1e" stroke="#1e1e1e" stroke-width="0.22" textLength="77.6" lengthAdjust="spacingAndGlyphs" >Platelet depletion + Veh</text>
<text x="337" y="219.7" font-size="7.2" text-anchor="start" fill="#1e1e1e" stroke="#1e1e1e" stroke-width="0.22" textLength="36.9" lengthAdjust="spacingAndGlyphs" >JAQ1 F(ab&#8242;)</text>
<text x="374.2" y="221.8" font-size="4.3" text-anchor="start" fill="#1e1e1e" stroke="#1e1e1e" stroke-width="0.22" >2</text>
<text x="377.8" y="219.7" font-size="7.2" text-anchor="start" fill="#1e1e1e" stroke="#1e1e1e" stroke-width="0.22" textLength="4" lengthAdjust="spacingAndGlyphs" >+</text>
<text x="383.3" y="219.7" font-size="7.2" text-anchor="start" fill="#1e1e1e" stroke="#1e1e1e" stroke-width="0.22" textLength="12.5" lengthAdjust="spacingAndGlyphs" >Veh</text>
<text x="337" y="237.2" font-size="7.2" text-anchor="start" fill="#1e1e1e" stroke="#1e1e1e" stroke-width="0.22" textLength="36.9" lengthAdjust="spacingAndGlyphs" >Cntr + Doxil</text>
<text x="337" y="248.1" font-size="7.2" text-anchor="start" fill="#1e1e1e" stroke="#1e1e1e" stroke-width="0.22" textLength="79.7" lengthAdjust="spacingAndGlyphs" >Platelet depletion + Doxil</text>
<text x="337" y="259.6" font-size="7.2" text-anchor="start" fill="#1e1e1e" stroke="#1e1e1e" stroke-width="0.22" textLength="36.9" lengthAdjust="spacingAndGlyphs" >JAQ1 F(ab&#8242;)</text>
<text x="374.2" y="261.7" font-size="4.3" text-anchor="start" fill="#1e1e1e" stroke="#1e1e1e" stroke-width="0.22" >2</text>
<text x="377.8" y="259.6" font-size="7.2" text-anchor="start" fill="#1e1e1e" stroke="#1e1e1e" stroke-width="0.22" textLength="4" lengthAdjust="spacingAndGlyphs" >+</text>
<text x="383.3" y="259.6" font-size="7.2" text-anchor="start" fill="#1e1e1e" stroke="#1e1e1e" stroke-width="0.22" textLength="15.8" lengthAdjust="spacingAndGlyphs" >Doxil</text>
<path d="M433.3,194.9 H438.2 V206.4 H433.3" fill="none" stroke="#333" stroke-width="1.1"/>
<path d="M454.4,194.9 H459.4 V217.4 H454.4" fill="none" stroke="#333" stroke-width="1.1"/>
<path d="M433.3,234.9 H438.2 V246.2 H433.3" fill="none" stroke="#333" stroke-width="1.1"/>
<path d="M454.4,234.9 H459.4 V256.6 H454.4" fill="none" stroke="#333" stroke-width="1.1"/>
<path d="M442.4,198 L441.7,202.4 M443.8,198 L443.1,202.4 M441.1,199.45 L444.3,199.45 M441,200.95 L444.2,200.95" stroke="#4e6280" stroke-width="0.75" stroke-opacity="0.78" fill="none"/>
<path d="M464,203.5 L463.3,207.9 M465.4,203.5 L464.7,207.9 M462.7,204.95 L465.9,204.95 M462.6,206.45 L465.8,206.45" stroke="#a03644" stroke-width="0.75" stroke-opacity="0.78" fill="none"/>
<circle cx="442.4" cy="239.1" r="1.15" fill="#4e6280" fill-opacity="0.85"/>
<circle cx="464" cy="244" r="1.15" fill="#a03644" fill-opacity="0.85"/>
<line x1="309.9" y1="290.2" x2="309.9" y2="473.1" stroke="#2a2a2a" stroke-width="1.15" />
<line x1="306.9" y1="473.1" x2="309.9" y2="473.1" stroke="#2a2a2a" stroke-width="1.1" />
<text x="303.8" y="475.92" font-size="8.8" text-anchor="end" fill="#1e1e1e" stroke="#1e1e1e" stroke-width="0.22" textLength="4" lengthAdjust="spacingAndGlyphs" >0</text>
<line x1="306.9" y1="442.95" x2="309.9" y2="442.95" stroke="#2a2a2a" stroke-width="1.1" />
<text x="303.8" y="445.77" font-size="8.8" text-anchor="end" fill="#1e1e1e" stroke="#1e1e1e" stroke-width="0.22" textLength="12" lengthAdjust="spacingAndGlyphs" >200</text>
<line x1="306.9" y1="412.8" x2="309.9" y2="412.8" stroke="#2a2a2a" stroke-width="1.1" />
<text x="303.8" y="415.62" font-size="8.8" text-anchor="end" fill="#1e1e1e" stroke="#1e1e1e" stroke-width="0.22" textLength="12" lengthAdjust="spacingAndGlyphs" >400</text>
<line x1="306.9" y1="382.65" x2="309.9" y2="382.65" stroke="#2a2a2a" stroke-width="1.1" />
<text x="303.8" y="385.47" font-size="8.8" text-anchor="end" fill="#1e1e1e" stroke="#1e1e1e" stroke-width="0.22" textLength="12" lengthAdjust="spacingAndGlyphs" >600</text>
<line x1="306.9" y1="352.5" x2="309.9" y2="352.5" stroke="#2a2a2a" stroke-width="1.1" />
<text x="303.8" y="355.32" font-size="8.8" text-anchor="end" fill="#1e1e1e" stroke="#1e1e1e" stroke-width="0.22" textLength="12" lengthAdjust="spacingAndGlyphs" >800</text>
<line x1="306.9" y1="322.35" x2="309.9" y2="322.35" stroke="#2a2a2a" stroke-width="1.1" />
<text x="303.8" y="325.17" font-size="8.8" text-anchor="end" fill="#1e1e1e" stroke="#1e1e1e" stroke-width="0.22" textLength="16" lengthAdjust="spacingAndGlyphs" >1000</text>
<line x1="306.9" y1="292.2" x2="309.9" y2="292.2" stroke="#2a2a2a" stroke-width="1.1" />
<text x="303.8" y="295.02" font-size="8.8" text-anchor="end" fill="#1e1e1e" stroke="#1e1e1e" stroke-width="0.22" textLength="16" lengthAdjust="spacingAndGlyphs" >1200</text>
<line x1="309.9" y1="473.5" x2="494.2" y2="473.5" stroke="#2a2a2a" stroke-width="1" />
<line x1="332.7" y1="473.5" x2="332.7" y2="476.2" stroke="#2a2a2a" stroke-width="1" />
<line x1="355.3" y1="473.5" x2="355.3" y2="476.2" stroke="#2a2a2a" stroke-width="1" />
<line x1="377.9" y1="473.5" x2="377.9" y2="476.2" stroke="#2a2a2a" stroke-width="1" />
<line x1="400.5" y1="473.5" x2="400.5" y2="476.2" stroke="#2a2a2a" stroke-width="1" />
<line x1="423.1" y1="473.5" x2="423.1" y2="476.2" stroke="#2a2a2a" stroke-width="1" />
<line x1="445.7" y1="473.5" x2="445.7" y2="476.2" stroke="#2a2a2a" stroke-width="1" />
<line x1="468.3" y1="473.5" x2="468.3" y2="476.2" stroke="#2a2a2a" stroke-width="1" />
<line x1="490.9" y1="473.5" x2="490.9" y2="476.2" stroke="#2a2a2a" stroke-width="1" />
<text x="332.7" y="486.2" font-size="8" text-anchor="middle" fill="#1e1e1e" stroke="#1e1e1e" stroke-width="0.22" textLength="8.3" lengthAdjust="spacingAndGlyphs" >16</text>
<text x="377.9" y="486.2" font-size="8" text-anchor="middle" fill="#1e1e1e" stroke="#1e1e1e" stroke-width="0.22" textLength="8.3" lengthAdjust="spacingAndGlyphs" >20</text>
<text x="423.1" y="486.2" font-size="8" text-anchor="middle" fill="#1e1e1e" stroke="#1e1e1e" stroke-width="0.22" textLength="8.3" lengthAdjust="spacingAndGlyphs" >24</text>
<text x="468.3" y="486.2" font-size="8" text-anchor="middle" fill="#1e1e1e" stroke="#1e1e1e" stroke-width="0.22" textLength="8.3" lengthAdjust="spacingAndGlyphs" >28</text>
<text x="401.8" y="499.8" font-size="9.4" text-anchor="middle" fill="#1e1e1e" stroke="#1e1e1e" stroke-width="0.22" textLength="96" lengthAdjust="spacingAndGlyphs" >Days post implantation</text>
<text transform="translate(279.3,380.8) rotate(-90)" font-size="9.8" text-anchor="middle" fill="#1e1e1e" stroke="#1e1e1e" stroke-width="0.2" textLength="87.8" lengthAdjust="spacingAndGlyphs">Tumor volume [mm<tspan font-size="6.6" dy="-3.8">3</tspan><tspan dy="3.8">]</tspan></text>
<line x1="377.7" y1="307.2" x2="377.7" y2="326.8" stroke="#111" stroke-width="1.1" />
<path d="M374.1,323.3 L377.7,331.8 L381.3,323.3 L377.7,324.8 Z" fill="#111"/>
<line x1="422" y1="307.2" x2="422" y2="326.8" stroke="#111" stroke-width="1.1" />
<path d="M418.4,323.3 L422,331.8 L425.6,323.3 L422,324.8 Z" fill="#111"/>
<path d="M310.1,473.1 L332.7,472 L355.3,469 L377.9,470 L400.5,463.7 L423.1,446.2 L457,426.4 L479.6,415.7" fill="none" stroke="#7aa85c" stroke-width="1.2" stroke-dasharray="1,1.2"/>
<path d="M310.1,473.1 L332.7,472 L355.3,468 L377.9,468.9 L400.5,460.7 L423.1,453 L457,441.3 L479.6,438.2" fill="none" stroke="#a03644" stroke-width="1.2" stroke-dasharray="1,1.2"/>
<path d="M310.1,473.1 L332.7,472 L355.3,468 L377.9,463.8 L400.5,460.7 L423.1,453 L457,441.3" fill="none" stroke="#4e6280" stroke-width="1.2" stroke-dasharray="1,1.2"/>
<rect x="307.25" y="470.25" width="5.7" height="5.7" fill="#ffffff" stroke="#7aa85c" stroke-width="1"/>
<rect x="309.6" y="472.6" width="1" height="1" fill="#7aa85c"/>
<rect x="329.85" y="469.15" width="5.7" height="5.7" fill="#ffffff" stroke="#7aa85c" stroke-width="1"/>
<rect x="332.2" y="471.5" width="1" height="1" fill="#7aa85c"/>
<rect x="352.45" y="466.15" width="5.7" height="5.7" fill="#ffffff" stroke="#7aa85c" stroke-width="1"/>
<rect x="354.8" y="468.5" width="1" height="1" fill="#7aa85c"/>
<rect x="375.05" y="467.15" width="5.7" height="5.7" fill="#ffffff" stroke="#7aa85c" stroke-width="1"/>
<rect x="377.4" y="469.5" width="1" height="1" fill="#7aa85c"/>
<rect x="397.65" y="460.85" width="5.7" height="5.7" fill="#ffffff" stroke="#7aa85c" stroke-width="1"/>
<rect x="400" y="463.2" width="1" height="1" fill="#7aa85c"/>
<rect x="420.25" y="443.35" width="5.7" height="5.7" fill="#ffffff" stroke="#7aa85c" stroke-width="1"/>
<rect x="422.6" y="445.7" width="1" height="1" fill="#7aa85c"/>
<line x1="457" y1="426.4" x2="457" y2="421.8" stroke="#7aa85c" stroke-width="1" stroke-opacity="0.7"/>
<line x1="453.2" y1="421.8" x2="460.8" y2="421.8" stroke="#7aa85c" stroke-width="1" />
<rect x="454.15" y="423.55" width="5.7" height="5.7" fill="#ffffff" stroke="#7aa85c" stroke-width="1"/>
<rect x="456.5" y="425.9" width="1" height="1" fill="#7aa85c"/>
<line x1="479.6" y1="415.7" x2="479.6" y2="410.6" stroke="#7aa85c" stroke-width="1" stroke-opacity="0.7"/>
<line x1="475.8" y1="410.6" x2="483.4" y2="410.6" stroke="#7aa85c" stroke-width="1" />
<rect x="476.75" y="412.85" width="5.7" height="5.7" fill="#ffffff" stroke="#7aa85c" stroke-width="1"/>
<rect x="479.1" y="415.2" width="1" height="1" fill="#7aa85c"/>
<rect x="307.25" y="470.25" width="5.7" height="5.7" fill="#ffffff" stroke="#a03644" stroke-width="1"/>
<rect x="309.6" y="472.6" width="1" height="1" fill="#a03644"/>
<rect x="329.85" y="469.15" width="5.7" height="5.7" fill="#ffffff" stroke="#a03644" stroke-width="1"/>
<rect x="332.2" y="471.5" width="1" height="1" fill="#a03644"/>
<rect x="352.45" y="465.15" width="5.7" height="5.7" fill="#ffffff" stroke="#a03644" stroke-width="1"/>
<rect x="354.8" y="467.5" width="1" height="1" fill="#a03644"/>
<rect x="375.05" y="466.05" width="5.7" height="5.7" fill="#ffffff" stroke="#a03644" stroke-width="1"/>
<rect x="377.4" y="468.4" width="1" height="1" fill="#a03644"/>
<rect x="397.65" y="457.85" width="5.7" height="5.7" fill="#ffffff" stroke="#a03644" stroke-width="1"/>
<rect x="400" y="460.2" width="1" height="1" fill="#a03644"/>
<rect x="420.25" y="450.15" width="5.7" height="5.7" fill="#ffffff" stroke="#a03644" stroke-width="1"/>
<rect x="422.6" y="452.5" width="1" height="1" fill="#a03644"/>
<rect x="454.15" y="438.45" width="5.7" height="5.7" fill="#ffffff" stroke="#a03644" stroke-width="1"/>
<rect x="456.5" y="440.8" width="1" height="1" fill="#a03644"/>
<line x1="479.6" y1="438.2" x2="479.6" y2="432.8" stroke="#a03644" stroke-width="1" stroke-opacity="0.7"/>
<line x1="475.8" y1="432.8" x2="483.4" y2="432.8" stroke="#a03644" stroke-width="1" />
<rect x="476.75" y="435.35" width="5.7" height="5.7" fill="#ffffff" stroke="#a03644" stroke-width="1"/>
<rect x="479.1" y="437.7" width="1" height="1" fill="#a03644"/>
<rect x="307.25" y="470.25" width="5.7" height="5.7" fill="#ffffff" stroke="#4e6280" stroke-width="1"/>
<rect x="309.6" y="472.6" width="1" height="1" fill="#4e6280"/>
<rect x="329.85" y="469.15" width="5.7" height="5.7" fill="#ffffff" stroke="#4e6280" stroke-width="1"/>
<rect x="332.2" y="471.5" width="1" height="1" fill="#4e6280"/>
<rect x="352.45" y="465.15" width="5.7" height="5.7" fill="#ffffff" stroke="#4e6280" stroke-width="1"/>
<rect x="354.8" y="467.5" width="1" height="1" fill="#4e6280"/>
<rect x="375.05" y="460.95" width="5.7" height="5.7" fill="#ffffff" stroke="#4e6280" stroke-width="1"/>
<rect x="377.4" y="463.3" width="1" height="1" fill="#4e6280"/>
<rect x="397.65" y="457.85" width="5.7" height="5.7" fill="#ffffff" stroke="#4e6280" stroke-width="1"/>
<rect x="400" y="460.2" width="1" height="1" fill="#4e6280"/>
<rect x="420.25" y="450.15" width="5.7" height="5.7" fill="#ffffff" stroke="#4e6280" stroke-width="1"/>
<rect x="422.6" y="452.5" width="1" height="1" fill="#4e6280"/>
<line x1="457" y1="441.3" x2="457" y2="438.3" stroke="#4e6280" stroke-width="1" stroke-opacity="0.7"/>
<line x1="453.2" y1="438.3" x2="460.8" y2="438.3" stroke="#4e6280" stroke-width="1" />
<rect x="454.15" y="438.45" width="5.7" height="5.7" fill="#ffffff" stroke="#4e6280" stroke-width="1"/>
<rect x="456.5" y="440.8" width="1" height="1" fill="#4e6280"/>
<path d="M310.1,473.1 L332.7,472 L355.3,467.5 L377.9,462 L400.5,442.4 L423.1,411.5 L457,357.1 L479.6,321.1" fill="none" stroke="#7aa85c" stroke-width="1.2"/>
<path d="M310.1,473.1 L332.7,472 L355.3,467.5 L377.9,463 L400.5,446.2 L423.1,432.9 L457,415 L479.6,380.8" fill="none" stroke="#a03644" stroke-width="1.2"/>
<path d="M310.1,473.1 L332.7,471.7 L355.3,466.9 L377.9,461.2 L400.5,454.5 L423.1,434.6 L457,392.8" fill="none" stroke="#4e6280" stroke-width="1.2"/>
<rect x="306.9" y="469.9" width="6.4" height="6.4" fill="#7aa85c" stroke="#62a042" stroke-width="0.7"/>
<rect x="329.5" y="468.8" width="6.4" height="6.4" fill="#7aa85c" stroke="#62a042" stroke-width="0.7"/>
<rect x="352.1" y="464.3" width="6.4" height="6.4" fill="#7aa85c" stroke="#62a042" stroke-width="0.7"/>
<rect x="374.7" y="458.8" width="6.4" height="6.4" fill="#7aa85c" stroke="#62a042" stroke-width="0.7"/>
<rect x="397.3" y="439.2" width="6.4" height="6.4" fill="#7aa85c" stroke="#62a042" stroke-width="0.7"/>
<line x1="423.1" y1="411.5" x2="423.1" y2="406.8" stroke="#7aa85c" stroke-width="1" stroke-opacity="0.7"/>
<line x1="419.3" y1="406.8" x2="426.9" y2="406.8" stroke="#7aa85c" stroke-width="1" />
<rect x="419.9" y="408.3" width="6.4" height="6.4" fill="#7aa85c" stroke="#62a042" stroke-width="0.7"/>
<line x1="457" y1="357.1" x2="457" y2="345.1" stroke="#7aa85c" stroke-width="1" stroke-opacity="0.7"/>
<line x1="453.2" y1="345.1" x2="460.8" y2="345.1" stroke="#7aa85c" stroke-width="1" />
<rect x="453.8" y="353.9" width="6.4" height="6.4" fill="#7aa85c" stroke="#62a042" stroke-width="0.7"/>
<line x1="479.6" y1="321.1" x2="479.6" y2="306.8" stroke="#7aa85c" stroke-width="1" stroke-opacity="0.7"/>
<line x1="475.8" y1="306.8" x2="483.4" y2="306.8" stroke="#7aa85c" stroke-width="1" />
<rect x="476.4" y="317.9" width="6.4" height="6.4" fill="#7aa85c" stroke="#62a042" stroke-width="0.7"/>
<rect x="306.9" y="469.9" width="6.4" height="6.4" fill="#a03644" stroke="#922a3a" stroke-width="0.7"/>
<rect x="329.5" y="468.8" width="6.4" height="6.4" fill="#a03644" stroke="#922a3a" stroke-width="0.7"/>
<rect x="352.1" y="464.3" width="6.4" height="6.4" fill="#a03644" stroke="#922a3a" stroke-width="0.7"/>
<rect x="374.7" y="459.8" width="6.4" height="6.4" fill="#a03644" stroke="#922a3a" stroke-width="0.7"/>
<rect x="397.3" y="443" width="6.4" height="6.4" fill="#a03644" stroke="#922a3a" stroke-width="0.7"/>
<line x1="423.1" y1="432.9" x2="423.1" y2="428" stroke="#a03644" stroke-width="1" stroke-opacity="0.7"/>
<line x1="419.3" y1="428" x2="426.9" y2="428" stroke="#a03644" stroke-width="1" />
<rect x="419.9" y="429.7" width="6.4" height="6.4" fill="#a03644" stroke="#922a3a" stroke-width="0.7"/>
<line x1="457" y1="415" x2="457" y2="408.8" stroke="#a03644" stroke-width="1" stroke-opacity="0.7"/>
<line x1="453.2" y1="408.8" x2="460.8" y2="408.8" stroke="#a03644" stroke-width="1" />
<rect x="453.8" y="411.8" width="6.4" height="6.4" fill="#a03644" stroke="#922a3a" stroke-width="0.7"/>
<line x1="479.6" y1="380.8" x2="479.6" y2="368.3" stroke="#a03644" stroke-width="1" stroke-opacity="0.7"/>
<line x1="475.8" y1="368.3" x2="483.4" y2="368.3" stroke="#a03644" stroke-width="1" />
<rect x="476.4" y="377.6" width="6.4" height="6.4" fill="#a03644" stroke="#922a3a" stroke-width="0.7"/>
<rect x="306.9" y="469.9" width="6.4" height="6.4" fill="#4e6280" stroke="#3d5274" stroke-width="0.7"/>
<rect x="329.5" y="468.5" width="6.4" height="6.4" fill="#4e6280" stroke="#3d5274" stroke-width="0.7"/>
<rect x="352.1" y="463.7" width="6.4" height="6.4" fill="#4e6280" stroke="#3d5274" stroke-width="0.7"/>
<rect x="374.7" y="458" width="6.4" height="6.4" fill="#4e6280" stroke="#3d5274" stroke-width="0.7"/>
<rect x="397.3" y="451.3" width="6.4" height="6.4" fill="#4e6280" stroke="#3d5274" stroke-width="0.7"/>
<rect x="419.9" y="431.4" width="6.4" height="6.4" fill="#4e6280" stroke="#3d5274" stroke-width="0.7"/>
<line x1="457" y1="392.8" x2="457" y2="386.8" stroke="#4e6280" stroke-width="1" stroke-opacity="0.7"/>
<line x1="453.2" y1="386.8" x2="460.8" y2="386.8" stroke="#4e6280" stroke-width="1" />
<rect x="453.8" y="389.6" width="6.4" height="6.4" fill="#4e6280" stroke="#3d5274" stroke-width="0.7"/>
<path d="M418.1,370.5 L417.4,374.9 M419.5,370.5 L418.8,374.9 M416.8,371.95 L420,371.95 M416.7,373.45 L419.9,373.45" stroke="#4e6280" stroke-width="0.75" stroke-opacity="0.78" fill="none"/>
<path d="M422.1,370.5 L421.4,374.9 M423.5,370.5 L422.8,374.9 M420.8,371.95 L424,371.95 M420.7,373.45 L423.9,373.45" stroke="#4e6280" stroke-width="0.75" stroke-opacity="0.78" fill="none"/>
<path d="M426.1,370.5 L425.4,374.9 M427.5,370.5 L426.8,374.9 M424.8,371.95 L428,371.95 M424.7,373.45 L427.9,373.45" stroke="#4e6280" stroke-width="0.75" stroke-opacity="0.78" fill="none"/>
<path d="M420.1,379.9 L419.4,384.3 M421.5,379.9 L420.8,384.3 M418.8,381.35 L422,381.35 M418.7,382.85 L421.9,382.85" stroke="#a03644" stroke-width="0.75" stroke-opacity="0.78" fill="none"/>
<path d="M424.1,379.9 L423.4,384.3 M425.5,379.9 L424.8,384.3 M422.8,381.35 L426,381.35 M422.7,382.85 L425.9,382.85" stroke="#a03644" stroke-width="0.75" stroke-opacity="0.78" fill="none"/>
<path d="M456.6,307.1 L455.9,311.5 M458,307.1 L457.3,311.5 M455.3,308.55 L458.5,308.55 M455.2,310.05 L458.4,310.05" stroke="#4e6280" stroke-width="0.75" stroke-opacity="0.78" fill="none"/>
<path d="M452.6,316.5 L451.9,320.9 M454,316.5 L453.3,320.9 M451.3,317.95 L454.5,317.95 M451.2,319.45 L454.4,319.45" stroke="#a03644" stroke-width="0.75" stroke-opacity="0.78" fill="none"/>
<path d="M456.6,316.5 L455.9,320.9 M458,316.5 L457.3,320.9 M455.3,317.95 L458.5,317.95 M455.2,319.45 L458.4,319.45" stroke="#a03644" stroke-width="0.75" stroke-opacity="0.78" fill="none"/>
<path d="M460.6,316.5 L459.9,320.9 M462,316.5 L461.3,320.9 M459.3,317.95 L462.5,317.95 M459.2,319.45 L462.4,319.45" stroke="#a03644" stroke-width="0.75" stroke-opacity="0.78" fill="none"/>
<circle cx="456.9" cy="326.6" r="1.15" fill="#4e6280" fill-opacity="0.85"/>
<circle cx="456.9" cy="335.7" r="1.15" fill="#a03644" fill-opacity="0.85"/>
<path d="M477,285.1 L476.3,289.5 M478.4,285.1 L477.7,289.5 M475.7,286.55 L478.9,286.55 M475.6,288.05 L478.8,288.05" stroke="#a03644" stroke-width="0.75" stroke-opacity="0.78" fill="none"/>
<path d="M481,285.1 L480.3,289.5 M482.4,285.1 L481.7,289.5 M479.7,286.55 L482.9,286.55 M479.6,288.05 L482.8,288.05" stroke="#a03644" stroke-width="0.75" stroke-opacity="0.78" fill="none"/>
<circle cx="477.7" cy="295.5" r="1.15" fill="#a03644" fill-opacity="0.85"/>
<circle cx="480.9" cy="295.5" r="1.15" fill="#a03644" fill-opacity="0.85"/>
<rect x="0" y="0" width="520" height="1" fill="#505050"/>
<rect x="0" y="1" width="520" height="1" fill="#a8a8a8"/>
<rect x="0" y="0" width="1" height="510" fill="#000"/>
<rect x="519" y="0" width="1" height="510" fill="#000"/>
<rect x="0" y="509" width="520" height="1" fill="#000"/>
</svg>
</body></html>
